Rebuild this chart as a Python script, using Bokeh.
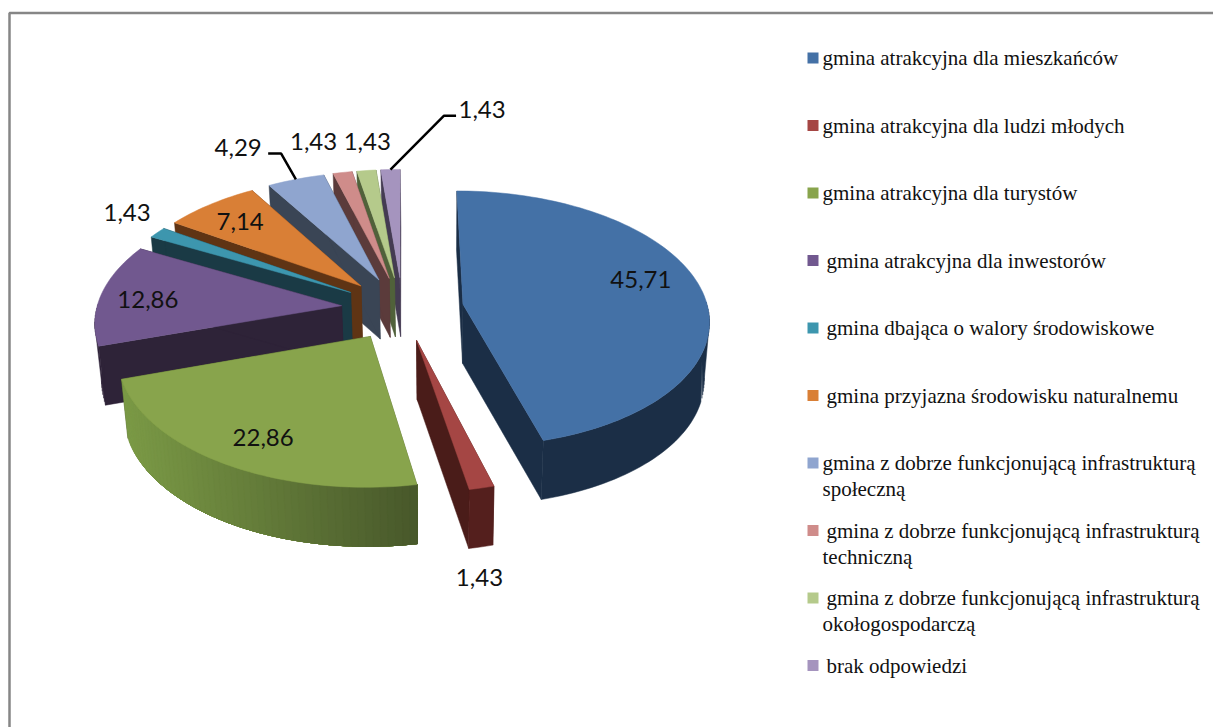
import math
from bokeh.plotting import figure
from bokeh.models import Range1d
from bokeh.core.properties import value
from bokeh.embed import file_html
from bokeh.resources import INLINE

# ---- data ----
categories = [
    ["gmina atrakcyjna dla mieszkańców"],
    ["gmina atrakcyjna dla ludzi młodych"],
    ["gmina atrakcyjna dla turystów"],
    ["gmina atrakcyjna dla inwestorów"],
    ["gmina dbająca o walory środowiskowe"],
    ["gmina przyjazna środowisku naturalnemu"],
    ["gmina z dobrze funkcjonującą infrastrukturą", "społeczną"],
    ["gmina z dobrze funkcjonującą infrastrukturą", "techniczną"],
    ["gmina z dobrze funkcjonującą infrastrukturą", "okołogospodarczą"],
    ["brak odpowiedzi"],
]
values = [45.71, 1.43, 22.86, 12.86, 1.43, 7.14, 4.29, 1.43, 1.43, 1.43]
value_labels = ["45,71", "1,43", "22,86", "12,86", "1,43", "7,14", "4,29", "1,43", "1,43", "1,43"]

# ---- style ----
top_colors = ["#4471a6", "#a54644", "#88a44c", "#71588f", "#3d96ae", "#d97f36", "#8fa5cf", "#cf8c8a", "#b5ca8b", "#a594be"]
wall_colors = ["#1b2e46", "#4a1c19", "#4f5f2a", "#2e2338", "#1a3a45", "#5f3414", "#3a4555", "#5b3b3b", "#50613a", "#443b52"]
rim_left = ["#1b2e46", "#541f1d", "#7b9a46", "#2e2338", "#1a3a45", "#5f3414", "#3a4555", "#5b3b3b", "#50613a", "#443b52"]
rim_right = ["#1b2e46", "#541f1d", "#47572a", "#2e2338", "#1a3a45", "#5f3414", "#3a4555", "#5b3b3b", "#50613a", "#443b52"]
label_offsets = [(11, -13), (19, 138), (-8, 15), (-25, 2), (-86, -37), (-13, -6), (-81, -60), (-42, -61), (-7, -59), (89, -90)]
legend_indent = [0, 0, 0, 4, 4, 4, 0, 4, 4, 4]

# ---- layout of the pie (page pixels) ----
CX, CY, RX, RY = 402.0, 308.0, 245.0, 127.0
PERSP, EXPLODE, DEPTH = 0.113, 0.25, 59.0
VX, SHRINK = 440.0, 0.98

W, H = 1213, 727
p = figure(width=W, height=H, output_backend="svg", toolbar_location=None,
           x_range=Range1d(0, W), y_range=Range1d(H, 0),
           min_border=0, outline_line_color=None, background_fill_color="white",
           border_fill_color="white")
p.axis.visible = False
p.grid.visible = False


def project(X, Y):
    s = 1.0 / (1.0 - PERSP * Y)
    return CX + RX * X * s, CY + RY * Y * s


def down(pt):
    return VX + (pt[0] - VX) * SHRINK, pt[1] + DEPTH


def hex2rgb(c):
    return [int(c[i:i + 2], 16) for i in (1, 3, 5)]


def lerp(a, b, t):
    ra, rb = hex2rgb(a), hex2rgb(b)
    return "#%02x%02x%02x" % tuple(int(round(x + (y - x) * t)) for x, y in zip(ra, rb))


total = sum(values)
angles = [0.0]
for v in values:
    angles.append(angles[-1] + 360.0 * v / total)

slices = []
for i, v in enumerate(values):
    a0, a1 = angles[i], angles[i + 1]
    mid = math.radians((a0 + a1) / 2)
    ox, oy = EXPLODE * math.sin(mid), -EXPLODE * math.cos(mid)
    slices.append(dict(i=i, a0=a0, a1=a1, mid=mid, ox=ox, oy=oy))


def pt(sl, deg, r=1.0):
    t = math.radians(deg)
    return project(sl["ox"] + r * math.sin(t), sl["oy"] - r * math.cos(t))


def fill(poly, col, lw=0.5):
    p.patch([c[0] for c in poly], [c[1] for c in poly], fill_color=col, line_color=col, line_width=lw)


for sl in sorted(slices, key=lambda d: -math.cos(d["mid"])):
    i = sl["i"]
    apex = project(sl["ox"], sl["oy"])
    steps = max(3, int((sl["a1"] - sl["a0"]) / 1.5))
    degs = [sl["a0"] + (sl["a1"] - sl["a0"]) * k / steps for k in range(steps + 1)]
    arc = [pt(sl, d) for d in degs]
    # radial walls
    for q in (arc[0], arc[-1]):
        fill([apex, q, down(q), down(apex)], wall_colors[i])
    # front-facing rim: overlapping bands, drawn towards the side with larger x
    front = [k for k in range(steps + 1) if math.cos(math.radians(degs[k])) < 0.02]
    if len(front) > 1:
        run = [arc[k] for k in front]
        run.sort(key=lambda c: c[0])
        x0, x1 = run[0][0], run[-1][0]
        if rim_left[i] == rim_right[i]:
            fill(run + [down(c) for c in reversed(run)], rim_left[i])
        else:
            for k in range(len(run) - 1):
                part = run[k:]
                t = (run[k][0] - x0) / max(1.0, x1 - x0)
                fill(part + [down(c) for c in reversed(part)], lerp(rim_left[i], rim_right[i], t), 0.3)
    # top face
    fill([apex] + arc, top_colors[i])

# data labels
for sl in slices:
    i = sl["i"]
    ax, ay = project((EXPLODE + 0.7) * math.sin(sl["mid"]), -(EXPLODE + 0.7) * math.cos(sl["mid"]))
    dx, dy = label_offsets[i]
    p.text([ax + dx], [ay + dy], text=[value_labels[i]], text_font=value("Lato"), text_font_size="24px",
           text_color="#111111", text_align="center", text_baseline="middle")

# leader lines for two labels
for i, side, gap, elbow in ((6, -1, 30, 13), (9, 1, 26, 12)):
    sl = slices[i]
    rim = pt(sl, math.degrees(sl["mid"]))
    ax, ay = project((EXPLODE + 0.7) * math.sin(sl["mid"]), -(EXPLODE + 0.7) * math.cos(sl["mid"]))
    lx, ly = ax + label_offsets[i][0] - side * gap, ay + label_offsets[i][1] + 6
    p.line([lx, lx - side * elbow, rim[0]], [ly, ly, rim[1]], line_color="black", line_width=2.5)

# legend
LEG_X, LEG_Y, LEG_STEP, SWATCH, TEXT_X, LINE_H = 807.0, 57.5, 67.5, 11.0, 822.0, 26.0
for i, lines in enumerate(categories):
    yc = LEG_Y + i * LEG_STEP
    p.rect([LEG_X + SWATCH / 2], [yc], width=SWATCH, height=SWATCH, fill_color=top_colors[i], line_color=None)
    for j, line in enumerate(lines):
        x = TEXT_X + (legend_indent[i] if j == 0 else 0)
        p.text([x], [yc + j * LINE_H], text=[line], text_font=value("Liberation Serif"), text_font_size="21px",
               text_color="#111111", text_align="left", text_baseline="middle")

# frame
p.line([9, 9, W], [H, 12.5, 12.5], line_color="#868686", line_width=2.5)

open("out.html", "w").write(file_html(p, INLINE))
